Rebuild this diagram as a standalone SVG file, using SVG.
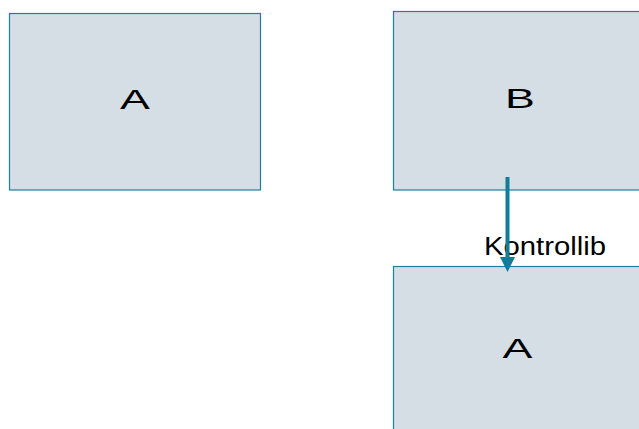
<svg xmlns="http://www.w3.org/2000/svg" width="639" height="429" viewBox="0 0 639 429">
<style>
.box{fill:#d6dee5;stroke:#1f7f9c;stroke-width:1.2}
.lbl{font-family:"Liberation Sans",Arial,sans-serif;fill:#000}
.conn{stroke:#137a98;stroke-width:4}
.head{fill:#137a98}
</style>
<rect width="639" height="429" fill="#fff"/>
<g id="nodeA1">
<rect class="box" x="9.5" y="13.5" width="251" height="176.5"/>
<text class="lbl" font-size="28" text-anchor="middle" transform="translate(135,108.5) scale(1.6,1)">A</text>
</g>
<g id="nodeB">
<rect class="box" x="393.5" y="11.5" width="260" height="178.5"/>
<text class="lbl" font-size="28" text-anchor="middle" transform="translate(520,107.7) scale(1.6,1)">B</text>
</g>
<g id="nodeA2">
<rect class="box" x="393.5" y="266.5" width="260" height="180"/>
<text class="lbl" font-size="28" text-anchor="middle" transform="translate(517.5,358) scale(1.6,1)">A</text>
</g>
<g id="connectors">
<text class="lbl" x="484" y="254.5" font-size="25" textLength="122" lengthAdjust="spacingAndGlyphs">Kontrollib</text>
<line class="conn" x1="507.5" y1="177" x2="507.5" y2="258"/>
<polygon class="head" points="500,257 515,257 507.5,272"/>
</g>
</svg>
